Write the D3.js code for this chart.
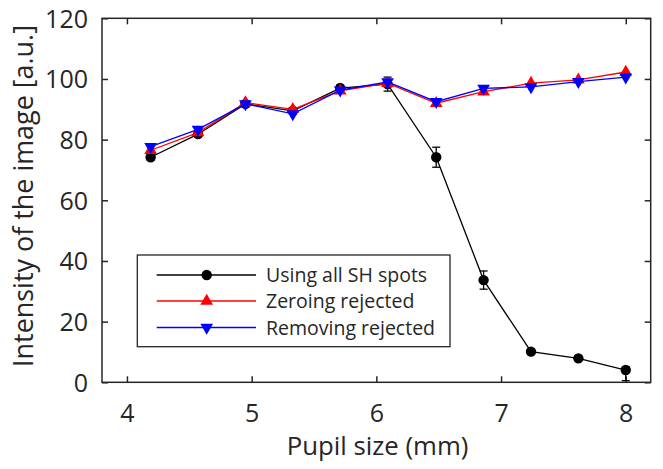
<!DOCTYPE html>
<html><head><meta charset="utf-8">
<script src="https://cdn.jsdelivr.net/npm/d3@7"></script>
<style>
html,body{margin:0;padding:0;background:#fff;}
svg text{font-family:"Open Sans",sans-serif;fill:#262626;}
</style></head>
<body><svg id="c" width="663" height="469"></svg>
<script>
const pupil = [4.19,4.57,4.95,5.33,5.71,6.09,6.48,6.86,7.24,7.62,8.0];
const allSpots = [74.2,81.8,91.8,89.5,97.0,98.3,74.2,33.7,10.1,7.9,4.05];
const allSpotsErrLow = [1,1,1,1,1,2.3,3.3,3.0,0.8,0.8,3.5];
const allSpotsErrHigh = [1,1,1,1,1,2.3,3.3,3.0,0.8,0.8,1.0];
const zeroing = [76.5,82.3,92.2,90.0,96.1,98.6,92.0,95.8,98.6,99.7,102.3];
const removing = [77.7,83.4,91.8,88.5,96.3,99.0,92.5,96.9,97.4,99.1,100.6];
const xTicks = [4,5,6,7,8];
const yTicks = [0,20,40,60,80,100,120];
const seriesNames = ["Using all SH spots","Zeroing rejected","Removing rejected"];
const xLabel = "Pupil size (mm)";
const yLabel = "Intensity of the image [a.u.]";

const svg = d3.select("#c");
const L=102, R=650.7, T=18.3, B=382.3;
const x = d3.scaleLinear().domain([3.8,8.2]).range([L,R]);
const y = d3.scaleLinear().domain([0,120]).range([B,T]);
const axisColor="#262626";

function fit(sel, target){
  const n=sel.node(); const fs=parseFloat(sel.attr("font-size"));
  const w=n.getComputedTextLength(); if(w>0) sel.attr("font-size",(fs*target/w).toFixed(2));
}

svg.append("rect").attr("x",L).attr("y",T).attr("width",R-L).attr("height",B-T)
  .attr("fill","none").attr("stroke",axisColor).attr("stroke-width",1.5);

const tl=6;
const fmt = d3.format("d");
const gb = svg.append("g").attr("transform",`translate(0,${B})`)
  .call(d3.axisBottom(x).tickValues(xTicks).tickFormat(fmt).tickSizeInner(-tl).tickSizeOuter(0).tickPadding(tl+14));
const gt = svg.append("g").attr("transform",`translate(0,${T})`)
  .call(d3.axisTop(x).tickValues(xTicks).tickFormat("").tickSizeInner(-tl).tickSizeOuter(0));
const gl = svg.append("g").attr("transform",`translate(${L},0)`)
  .call(d3.axisLeft(y).tickValues(yTicks).tickFormat(fmt).tickSizeInner(-tl).tickSizeOuter(0).tickPadding(tl+14));
const gr = svg.append("g").attr("transform",`translate(${R},0)`)
  .call(d3.axisRight(y).tickValues(yTicks).tickFormat("").tickSizeInner(-tl).tickSizeOuter(0));
[gb,gt,gl,gr].forEach(g=>{
  g.select(".domain").remove();
  g.selectAll(".tick line").attr("stroke",axisColor).attr("stroke-width",1.5);
  g.selectAll("text").attr("font-family","Open Sans").attr("font-size",25).attr("fill",axisColor);
});
gb.selectAll(".tick text").attr("dy",null).attr("y",39.4);
gl.selectAll(".tick text").attr("dy","0.36em").attr("x",-14);

const xl = svg.append("text").attr("x",377.5).attr("y",455).attr("text-anchor","middle")
  .attr("font-size",25).text(xLabel);
fit(xl,181.7);
const yl = svg.append("text").attr("transform",`translate(33,196) rotate(-90)`)
  .attr("text-anchor","middle").attr("font-size",25).text(yLabel);
fit(yl,342);

const line = d3.line().x((d,i)=>x(pupil[i])).y(d=>y(d));
const tri = d3.symbol().type(d3.symbolTriangle).size(70);

const gBlack = svg.append("g");
gBlack.append("path").datum(allSpots).attr("d",line).attr("fill","none").attr("stroke","#000").attr("stroke-width",1.3);
const cap=4;
allSpots.forEach((v,i)=>{
  const xi=x(pupil[i]), y1=y(v+allSpotsErrHigh[i]), y0=y(v-allSpotsErrLow[i]);
  gBlack.append("line").attr("x1",xi).attr("x2",xi).attr("y1",y1).attr("y2",y0).attr("stroke","#000").attr("stroke-width",1.3);
  gBlack.append("line").attr("x1",xi-cap).attr("x2",xi+cap).attr("y1",y1).attr("y2",y1).attr("stroke","#000").attr("stroke-width",1.3);
  gBlack.append("line").attr("x1",xi-cap).attr("x2",xi+cap).attr("y1",y0).attr("y2",y0).attr("stroke","#000").attr("stroke-width",1.3);
});
gBlack.selectAll("circle").data(allSpots).join("circle")
  .attr("cx",(d,i)=>x(pupil[i])).attr("cy",d=>y(d)).attr("r",5.2).attr("fill","#000");

const gRed = svg.append("g");
gRed.append("path").datum(zeroing).attr("d",line).attr("fill","none").attr("stroke","#ff0000").attr("stroke-width",1.3);
gRed.selectAll("path.m").data(zeroing).join("path").attr("class","m").attr("d",tri)
  .attr("transform",(d,i)=>`translate(${x(pupil[i])},${y(d)})`).attr("fill","#ff0000");

const gBlue = svg.append("g");
gBlue.append("path").datum(removing).attr("d",line).attr("fill","none").attr("stroke","#0000ff").attr("stroke-width",1.3);
gBlue.selectAll("path.m").data(removing).join("path").attr("class","m").attr("d",tri)
  .attr("transform",(d,i)=>`translate(${x(pupil[i])},${y(d)}) rotate(180)`).attr("fill","#0000ff");

const lg = svg.append("g");
lg.append("rect").attr("x",137.3).attr("y",255).attr("width",450-137.3).attr("height",346.7-255)
  .attr("fill","#fff").attr("stroke",axisColor).attr("stroke-width",1.3);
const colors=["#000","#ff0000","#0000ff"];
const rowY=[275,301,327.5];
const widths=[164,153,175];
seriesNames.forEach((name,i)=>{
  lg.append("line").attr("x1",156.7).attr("x2",256).attr("y1",rowY[i]).attr("y2",rowY[i])
    .attr("stroke",colors[i]).attr("stroke-width",1.3);
  if(i===0) lg.append("circle").attr("cx",206.7).attr("cy",rowY[i]).attr("r",5.2).attr("fill","#000");
  else lg.append("path").attr("d",tri).attr("fill",colors[i])
    .attr("transform",`translate(206.7,${rowY[i]})${i===2?" rotate(180)":""}`);
  lg.append("text").attr("x",266).attr("y",rowY[i]).attr("dy","0.36em").attr("font-size",19.5).text(name);
});
</script></body></html>
